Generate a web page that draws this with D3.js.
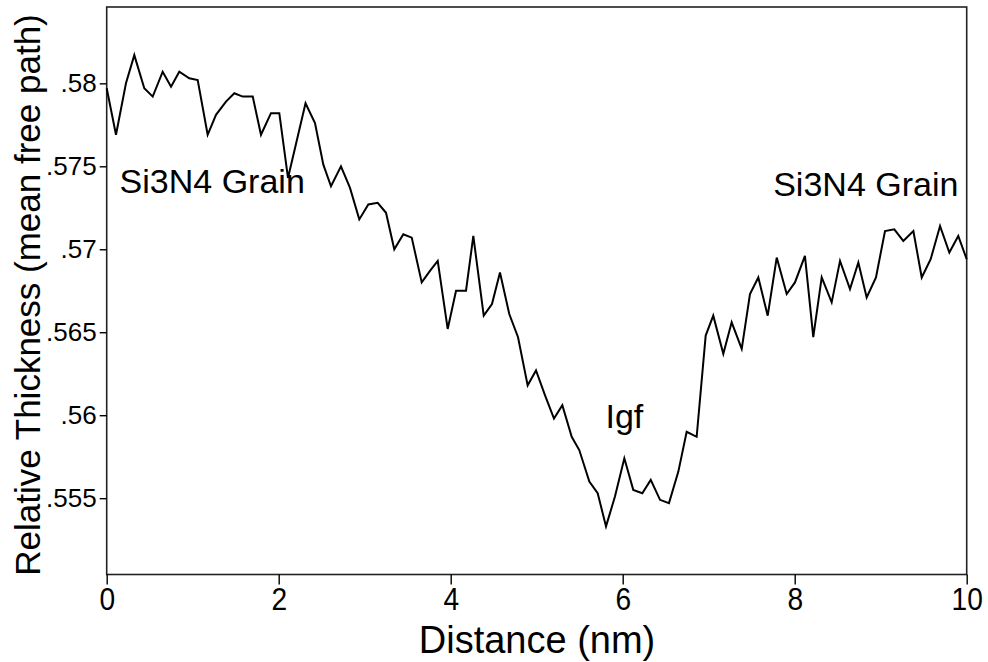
<!DOCTYPE html>
<html>
<head>
<meta charset="utf-8">
<script src="https://cdn.jsdelivr.net/npm/d3@7"></script>
<style>
body { margin: 0; background: #fff; }
svg text { font-family: "Liberation Sans", Arial, sans-serif; fill: #000; }
</style>
</head>
<body>
<script>
// profile: distance (nm) and relative thickness
var distance = [0, 0.108, 0.224, 0.321, 0.437, 0.535, 0.651, 0.748, 0.844, 0.96,
	1.058, 1.174, 1.271, 1.387, 1.484, 1.581, 1.698, 1.794, 1.91, 2.007,
	2.108, 2.312, 2.422, 2.519, 2.608, 2.724, 2.829, 2.937, 3.042, 3.151,
	3.248, 3.344, 3.449, 3.547, 3.663, 3.759, 3.849, 3.965, 4.062, 4.178,
	4.263, 4.384, 4.48, 4.573, 4.681, 4.783, 4.895, 4.992, 5.097, 5.201,
	5.298, 5.407, 5.495, 5.612, 5.709, 5.806, 5.91, 6.019, 6.123, 6.228,
	6.326, 6.434, 6.538, 6.647, 6.744, 6.86, 6.965, 7.053, 7.17, 7.267,
	7.384, 7.48, 7.577, 7.686, 7.791, 7.907, 8.003, 8.119, 8.216, 8.314,
	8.43, 8.527, 8.643, 8.74, 8.837, 8.945, 9.05, 9.158, 9.263, 9.38,
	9.477, 9.581, 9.69, 9.798, 9.902, 10];
var thickness = [0.5797, 0.5769, 0.5800, 0.5817, 0.5797, 0.5792, 0.5807, 0.5798, 0.5807, 0.5803,
	0.5802, 0.5769, 0.5781, 0.5789, 0.5794, 0.5792, 0.5792, 0.5769, 0.5782, 0.5782,
	0.5743, 0.5788, 0.5776, 0.5751, 0.5738, 0.5750, 0.5737, 0.5718, 0.5727, 0.5728,
	0.5722, 0.5700, 0.5709, 0.5707, 0.5680, 0.5687, 0.5693, 0.5652, 0.5675, 0.5675,
	0.5708, 0.5660, 0.5667, 0.5686, 0.5661, 0.5647, 0.5618, 0.5627, 0.5612, 0.5598,
	0.5606, 0.5587, 0.5579, 0.5560, 0.5553, 0.5533, 0.5551, 0.5574, 0.5555, 0.5553,
	0.5561, 0.5549, 0.5547, 0.5566, 0.5590, 0.5587, 0.5648, 0.5660, 0.5637, 0.5656,
	0.5640, 0.5673, 0.5683, 0.5660, 0.5695, 0.5673, 0.5680, 0.5696, 0.5647, 0.5683,
	0.5668, 0.5693, 0.5676, 0.5692, 0.5671, 0.5683, 0.5711, 0.5712, 0.5705, 0.5711,
	0.5683, 0.5694, 0.5714, 0.5698, 0.5708, 0.5694];

var xTicks = [0, 2, 4, 6, 8, 10];
var yTicks = [0.555, 0.56, 0.565, 0.57, 0.575, 0.58];
var yTickLabels = [".555", ".56", ".565", ".57", ".575", ".58"];

var annotations = [
	{ text : "Si3N4 Grain", x : 0.15, y : 0.5734 },
	{ text : "Si3N4 Grain", x : 7.75, y : 0.5732 },
	{ text : "Igf", x : 5.8, y : 0.5592 }
];

var width = 988, height = 662;
var plotLeft = 106.7, plotRight = 966.7, plotTop = 7, plotBottom = 574.5;

var x = d3.scaleLinear().domain([0, 10]).range([plotLeft, plotRight]);
var y = d3.scaleLinear().domain([0.5504, 0.5846]).range([plotBottom, plotTop]);

var svg = d3.select("body").append("svg")//
.attr("width", width)//
.attr("height", height);

// frame
svg.append("rect")//
.attr("x", plotLeft)//
.attr("y", plotTop)//
.attr("width", plotRight - plotLeft)//
.attr("height", plotBottom - plotTop)//
.attr("fill", "none")//
.attr("stroke", "#222")//
.attr("stroke-width", 1.6);

// x axis, labels a bit condensed like the original print
var xAxis = svg.append("g")//
.attr("transform", "translate(0," + plotBottom + ")")//
.call(d3.axisBottom(x).tickValues(xTicks).tickSize(10).tickPadding(3).tickFormat(d3.format("d")));
xAxis.select(".domain").remove();
xAxis.selectAll("line").attr("stroke", "#000").attr("stroke-width", 1.4);
xAxis.selectAll("text")//
.attr("font-size", "32px")//
.attr("fill", "#000")//
.attr("transform", "scale(0.88,1)")//
.attr("font-family", "Liberation Sans, Arial, sans-serif");

// y axis
var yAxis = svg.append("g")//
.attr("transform", "translate(" + plotLeft + ",0)")//
.call(d3.axisLeft(y).tickValues(yTicks).tickSize(7).tickPadding(3).tickFormat(function(d, i) {
	return yTickLabels[i];
}));
yAxis.select(".domain").remove();
yAxis.selectAll("line").attr("stroke", "#000").attr("stroke-width", 1.4);
yAxis.selectAll("text")//
.attr("font-size", "26px")//
.attr("fill", "#000")//
.attr("font-family", "Liberation Sans, Arial, sans-serif");

// profile line
var points = distance.map(function(d, i) {
	return [d, thickness[i]];
});
svg.append("path")//
.datum(points)//
.attr("fill", "none")//
.attr("stroke", "#000")//
.attr("stroke-width", 2)//
.attr("stroke-linejoin", "miter")//
.attr("d", d3.line().x(function(d) {
	return x(d[0]);
}).y(function(d) {
	return y(d[1]);
}));

// labels in the plot
svg.selectAll(".note").data(annotations).enter().append("text")//
.attr("class", "note")//
.attr("x", function(d) {
	return x(d.x);
})//
.attr("y", function(d) {
	return y(d.y);
})//
.attr("font-size", "34px")//
.text(function(d) {
	return d.text;
});

// axis titles
svg.append("text")//
.attr("x", 537)//
.attr("y", 653)//
.attr("text-anchor", "middle")//
.attr("font-size", "38px")//
.text("Distance (nm)");

svg.append("text")//
.attr("transform", "translate(40," + 295 + ") rotate(-90)")//
.attr("text-anchor", "middle")//
.attr("font-size", "35px")//
.text("Relative Thickness (mean free path)");
</script>
</body>
</html>
